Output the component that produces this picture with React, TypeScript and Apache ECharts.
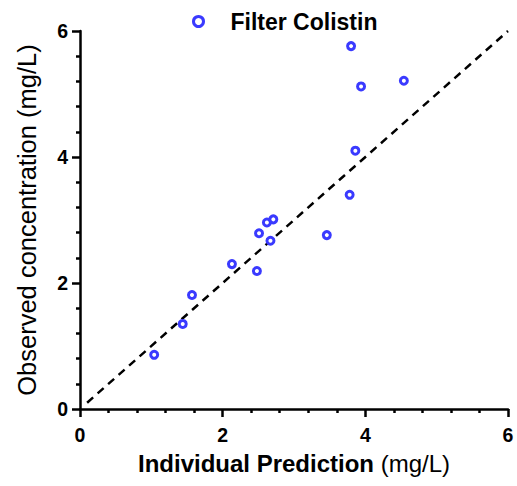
import React, { useEffect, useRef } from "react";
import * as echarts from "echarts";

const predicted = [1.04, 1.44, 1.57, 2.13, 2.48, 2.51, 2.62, 2.71, 2.67, 3.46, 3.8, 3.94, 4.54, 3.86, 3.78];
const observed = [0.86, 1.35, 1.81, 2.3, 2.19, 2.79, 2.96, 3.01, 2.67, 2.76, 5.76, 5.12, 5.21, 4.1, 3.4];
const identityLine = [0.1, 6];
const seriesName = "Filter Colistin";

export default function App() {
  const ref = useRef<HTMLDivElement>(null);
  useEffect(() => {
    if (!ref.current) return;
    const chart = echarts.init(ref.current, null, { renderer: "svg" });
    const font = "'Liberation Sans', Arial, Helvetica, sans-serif";
    const blue = "#3A3AFF";
    const axisCommon = {
      min: 0,
      max: 6,
      interval: 2,
      axisLine: { show: true, onZero: false, lineStyle: { color: "#000", width: 2.5 } },
      axisTick: { show: true, length: 8, lineStyle: { color: "#000", width: 2.5 } },
      minorTick: { show: true, splitNumber: 5, length: 4, lineStyle: { color: "#000", width: 2.5 } },
      splitLine: { show: false },
      axisLabel: { color: "#000", fontSize: 19.5, fontWeight: "bold", fontFamily: font },
      nameLocation: "middle" as const,
    };
    chart.setOption({
      animation: false,
      grid: { left: 80, right: 9, top: 31, bottom: 77 },
      legend: {
        top: 5,
        left: 187,
        itemWidth: 10,
        itemHeight: 10,
        data: [seriesName],
        itemStyle: { color: "#fff", borderColor: blue, borderWidth: 3 },
        textStyle: {
          fontSize: 23,
          fontWeight: "bold",
          color: "#000",
          fontFamily: font,
          padding: [0, 0, 0, 22],
        },
      },
      xAxis: {
        type: "value",
        ...axisCommon,
        axisLabel: { ...axisCommon.axisLabel, margin: 16 },
        name: "{b|Individual Prediction}{n| (mg/L)}",
        nameGap: 42,
        nameTextStyle: {
          rich: {
            b: { fontSize: 24, fontWeight: "bold", color: "#000", fontFamily: font },
            n: { fontSize: 24, fontWeight: "normal", color: "#000", fontFamily: font },
          },
        },
      },
      yAxis: {
        type: "value",
        ...axisCommon,
        axisLabel: { ...axisCommon.axisLabel, margin: 12 },
        name: "{b|Observed concentration}{n| (mg/L)}",
        nameGap: 40,
        nameTextStyle: {
          rich: {
            b: { fontSize: 25.5, fontWeight: "normal", color: "#000", fontFamily: font },
            n: { fontSize: 25.5, fontWeight: "normal", color: "#000", fontFamily: font },
          },
        },
      },
      series: [
        {
          type: "line",
          data: identityLine.map((v) => [v, v]),
          symbol: "none",
          silent: true,
          lineStyle: { color: "#000", width: 2.5, type: [8, 6] },
          z: 1,
        },
        {
          name: seriesName,
          type: "scatter",
          symbol: "circle",
          symbolSize: 7,
          data: predicted.map((x, i) => [x, observed[i]]),
          itemStyle: { color: "#fff", borderColor: blue, borderWidth: 3, opacity: 1 },
          z: 3,
        },
      ],
    });
    return () => chart.dispose();
  }, []);
  return <div ref={ref} style={{ width: 517, height: 486, position: "absolute", left: 0, top: 0 }} />;
}
